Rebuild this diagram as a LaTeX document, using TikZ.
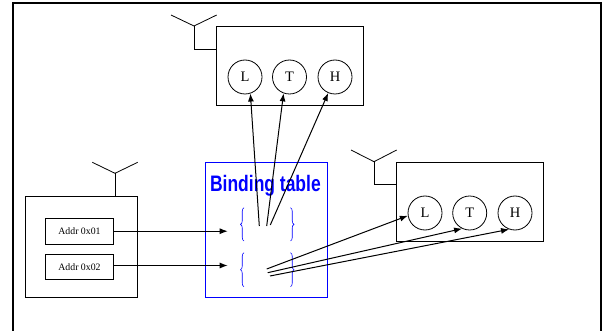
\documentclass[tikz,border=0pt]{standalone}
\usepackage{fontspec}
\usepackage{graphicx}
\setmainfont{Liberation Serif}
\newfontfamily\titlefont{Liberation Sans}
\usetikzlibrary{arrows.meta,decorations.pathreplacing}
\definecolor{tblue}{RGB}{0,0,255}
\tikzset{
  box/.style={draw=black,line width=0.8pt,rectangle,inner sep=0pt},
  sensor/.style={draw=black,line width=0.8pt,circle,minimum size=34pt,inner sep=0pt,font=\fontsize{14.5}{14.5}\selectfont},
  addrbox/.style={box,font=\fontsize{9.8}{10}\selectfont},
  ant/.style={draw=black,line width=0.8pt},
  link/.style={draw=black,line width=1pt,-{Latex[length=8pt,width=6pt]}},
  bracel/.style={draw=tblue,line width=0.6pt,decorate,decoration={brace,amplitude=3.5pt}},
}
\begin{document}
\begin{tikzpicture}[x=1pt,y=-1pt]
\useasboundingbox (0,0) rectangle (602,331);
% outer frame
\draw[line width=2pt] (13,331) -- (13,2.8) -- (601,2.8) -- (601,331);

% top device
\node[box,minimum width=146.6pt,minimum height=79pt] (topdev) at (290,66.2) {};
\draw[ant] (171,15) -- (194,26) -- (216.7,15);
\coordinate (topant) at (194,26);
\draw[ant] (topant) -- (194,49.3) -- (topdev.west |- 194,49.3);
\node[sensor] (tL) at (245,77) {L};
\node[sensor] (tT) at (289.5,77) {T};
\node[sensor] (tH) at (335,77) {H};

% right device
\node[box,minimum width=146.6pt,minimum height=78.7pt] (rdev) at (470,201.65) {};
\draw[ant] (351,150) -- (374,161.7) -- (396.7,150);
\coordinate (rant) at (374,161.7);
\draw[ant] (rant) -- (374,184.3) -- (rdev.west |- 374,184.3);
\node[sensor] (rL) at (425,213) {L};
\node[sensor] (rT) at (469.7,213) {T};
\node[sensor] (rH) at (515,213) {H};

% left device
\node[box,minimum width=112.7pt,minimum height=101.7pt] (ldev) at (81.35,246.85) {};
\coordinate (lant) at (115,173.3);
\draw[ant] (92.3,162.3) -- (lant) -- (137.7,162.3);
\draw[ant] (lant) -- (ldev.north -| lant);
\node[addrbox,minimum width=68.4pt,minimum height=25.7pt] (a1) at (79.5,231.2) {Addr 0x01};
\node[addrbox,minimum width=68.4pt,minimum height=25pt] (a2) at (79.5,266.8) {Addr 0x02};

% binding table
\node[draw=tblue,line width=0.7pt,rectangle,inner sep=0pt,minimum width=122.7pt,minimum height=135.4pt] (bt) at (266.35,230) {};
\node[anchor=base,inner sep=0pt,text=tblue,font=\titlefont\bfseries\fontsize{22.4}{22.4}\selectfont] (title) at (265.4,191.7) {\scalebox{0.78}[1]{Binding table}};
% braces
\coordinate (b1lt) at (244,207.7); \coordinate (b1lb) at (244,241);
\coordinate (b1rt) at (290.5,207.7); \coordinate (b1rb) at (290.5,241);
\coordinate (b2lt) at (244,252.7); \coordinate (b2lb) at (244,286.7);
\coordinate (b2rt) at (290.5,252.7); \coordinate (b2rb) at (290.5,286.7);
\draw[bracel] (b1lb) -- (b1lt);
\draw[bracel] (b1rt) -- (b1rb);
\draw[bracel] (b2lb) -- (b2lt);
\draw[bracel] (b2rt) -- (b2rb);

% arrows into table
\coordinate (e1) at (227.7,231.2);
\coordinate (e2) at (227.7,265.5);
\draw[link] (a1.east) -- (e1);
\draw[link] (a2.east |- e2) -- (e2);

% arrows to top device
\coordinate (s1) at (259.3,226);
\coordinate (s2) at (266.7,226);
\coordinate (s3) at (270.3,225);
\draw[link] (s1) -- (tL.-72);
\draw[link] (s2) -- (tT.-110);
\draw[link] (s3) -- (tH.-113);

% arrows to right device
\coordinate (u1) at (266.7,269);
\coordinate (u2) at (267.7,272.7);
\coordinate (u3) at (270,276);
\draw[link] (u1) -- (rL.189);
\draw[link] (u2) -- (rT.-116);
\draw[link] (u3) -- (rH.-110);
\end{tikzpicture}
\end{document}
